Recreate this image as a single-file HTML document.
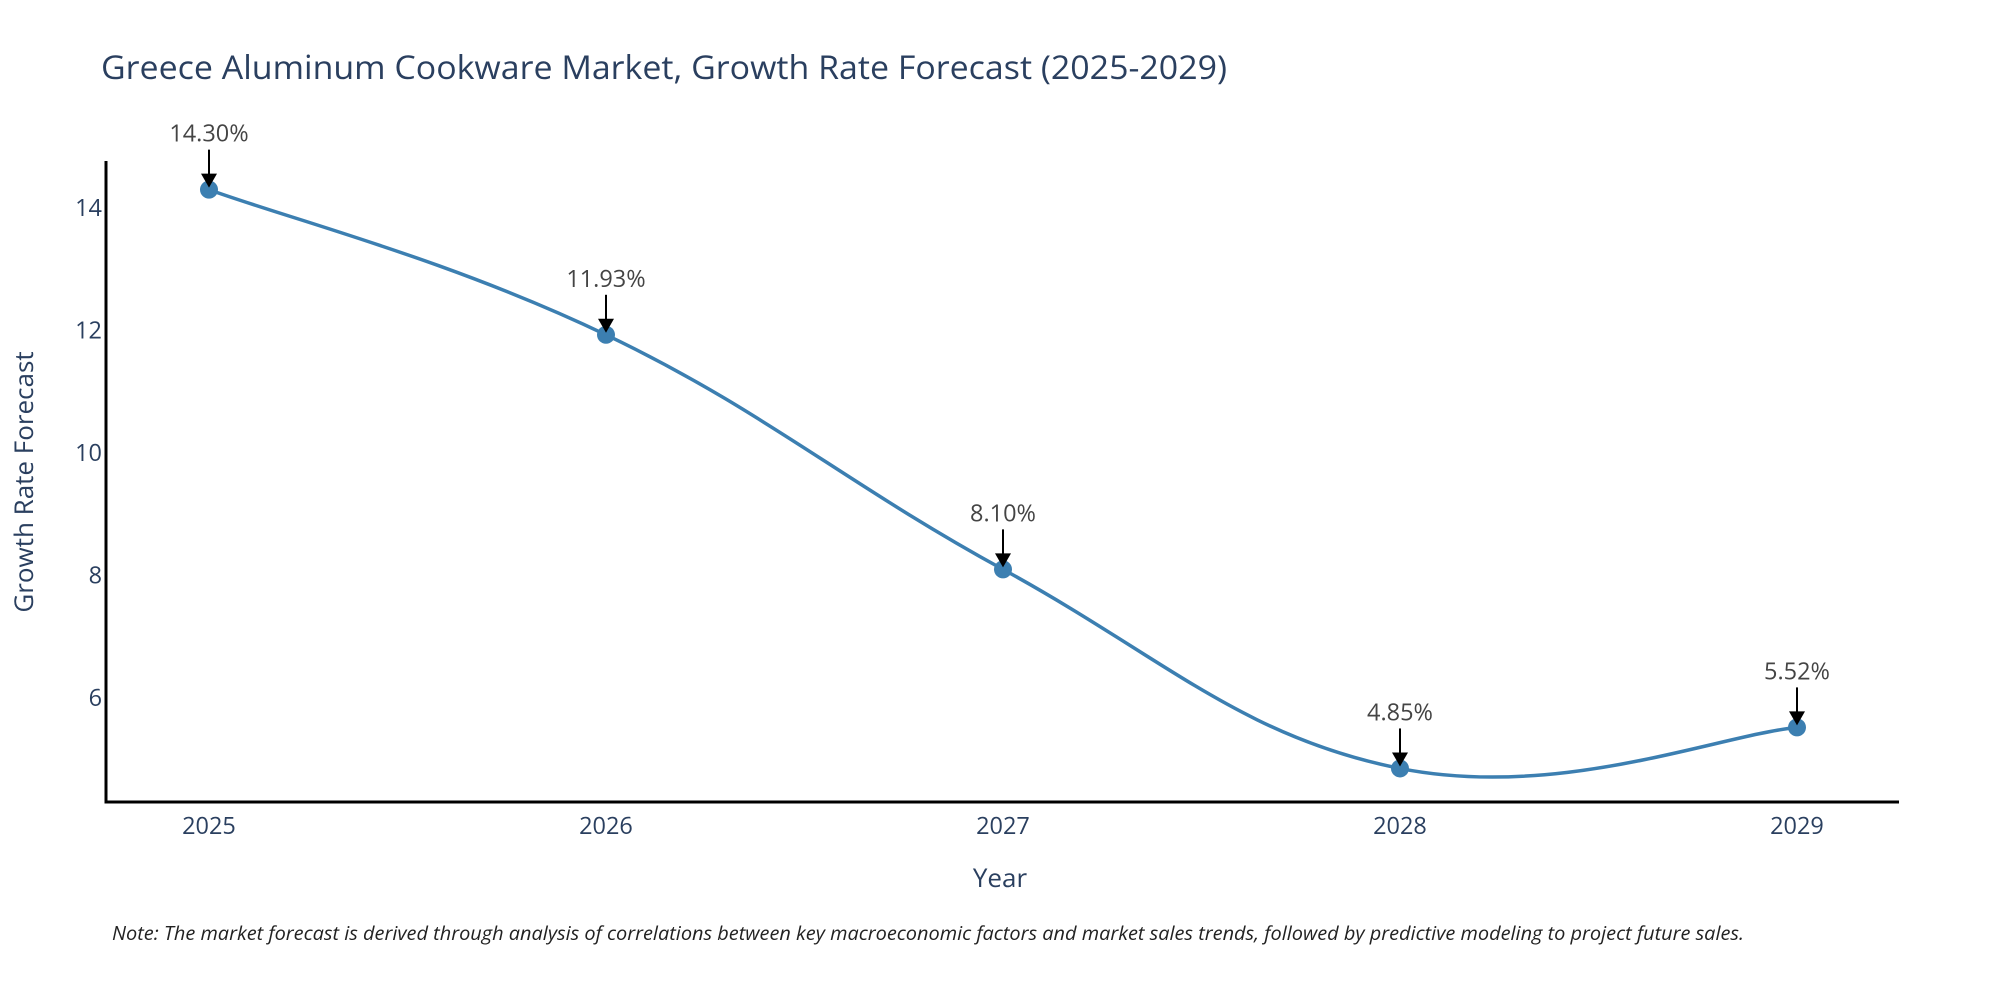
<!DOCTYPE html>
<html><head><meta charset="utf-8"><style>
html,body{margin:0;padding:0;background:#fff}
svg{display:block;font-family:"Open Sans","Liberation Sans",sans-serif}
</style></head><body>
<svg id="chart" width="2000" height="1000" viewBox="0 0 2000 1000">
<text x="101" y="79" font-size="33" fill="#2a3f5f" textLength="1126" lengthAdjust="spacingAndGlyphs">Greece Aluminum Cookware Market, Growth Rate Forecast (2025-2029)</text>
<g id="yticks"></g>
<g id="xticks"></g>
<path id="line" fill="none" stroke="#3c7fb1" stroke-width="3.5"/>
<g id="points"></g>
<g id="annos"></g>
<line x1="106" y1="161" x2="106" y2="803" stroke="#000" stroke-width="3"/>
<line x1="104.5" y1="802" x2="1899" y2="802" stroke="#000" stroke-width="3"/>
<text x="1000" y="887" font-size="26" fill="#2a3f5f" text-anchor="middle">Year</text>
<text transform="translate(33,482) rotate(-90)" font-size="26" fill="#2a3f5f" text-anchor="middle">Growth Rate Forecast</text>
<text x="112" y="940" font-size="19" font-style="italic" fill="#222" textLength="1632" lengthAdjust="spacingAndGlyphs">Note: The market forecast is derived through analysis of correlations between key macroeconomic factors and market sales trends, followed by predictive modeling to project future sales.</text>
</svg>
<script>
const years = [2025, 2026, 2027, 2028, 2029];
const growth = [14.30, 11.93, 8.10, 4.85, 5.52];
const labels = ["14.30%", "11.93%", "8.10%", "4.85%", "5.52%"];
const yTickValues = [6, 8, 10, 12, 14];

const NS = "http://www.w3.org/2000/svg";
const xScale = y => 209 + (y - 2025) * (1797 - 209) / 4;
const yScale = v => 698 - (v - 6) * 61.25;
function mk(tag, attrs, parent) {
  const e = document.createElementNS(NS, tag);
  for (const k in attrs) e.setAttribute(k, attrs[k]);
  parent.appendChild(e);
  return e;
}
const yt = document.getElementById("yticks");
yTickValues.forEach(v => {
  const t = mk("text", {x: 102, y: yScale(v) + 8, "font-size": 23.5, fill: "#2a3f5f", "text-anchor": "end"}, yt);
  
  
  t.textContent = v;
});
const xt = document.getElementById("xticks");
years.forEach(y => {
  const t = mk("text", {x: xScale(y), y: 834, "font-size": 23.5, fill: "#2a3f5f", "text-anchor": "middle"}, xt);
  
  
  t.textContent = y;
});
const pts = years.map((y, i) => [xScale(y), yScale(growth[i])]);
let d = "M" + pts[0][0] + "," + pts[0][1];
const s = 0.2;
for (let i = 0; i < pts.length - 1; i++) {
  const p0 = pts[i - 1] || pts[i], p1 = pts[i], p2 = pts[i + 1], p3 = pts[i + 2] || pts[i + 1];
  const c1 = [p1[0] + (p2[0] - p0[0]) * s, p1[1] + (p2[1] - p0[1]) * s];
  const c2 = [p2[0] - (p3[0] - p1[0]) * s, p2[1] - (p3[1] - p1[1]) * s];
  d += " C" + c1 + " " + c2 + " " + p2;
}
document.getElementById("line").setAttribute("d", d);
const pg = document.getElementById("points");
const ag = document.getElementById("annos");
pts.forEach((p, i) => {
  const c = mk("circle", {cx: p[0], cy: p[1], r: 9, fill: "#3c7fb1"}, pg);
  
  
  const ln = mk("line", {x1: p[0], y1: p[1] - 40, x2: p[0], y2: p[1] - 14, stroke: "#000", "stroke-width": 2}, ag);
  
  
  const ah = mk("polygon", {points: (p[0]-8)+","+(p[1]-16)+" "+(p[0]+8)+","+(p[1]-16)+" "+p[0]+","+(p[1]-2), fill: "#000"}, ag);
  
  
  const t = mk("text", {x: p[0], y: p[1] - 48, "font-size": 23.5, fill: "#444", "text-anchor": "middle"}, ag);
  
  
  t.textContent = labels[i];
});
</script>
</body></html>
